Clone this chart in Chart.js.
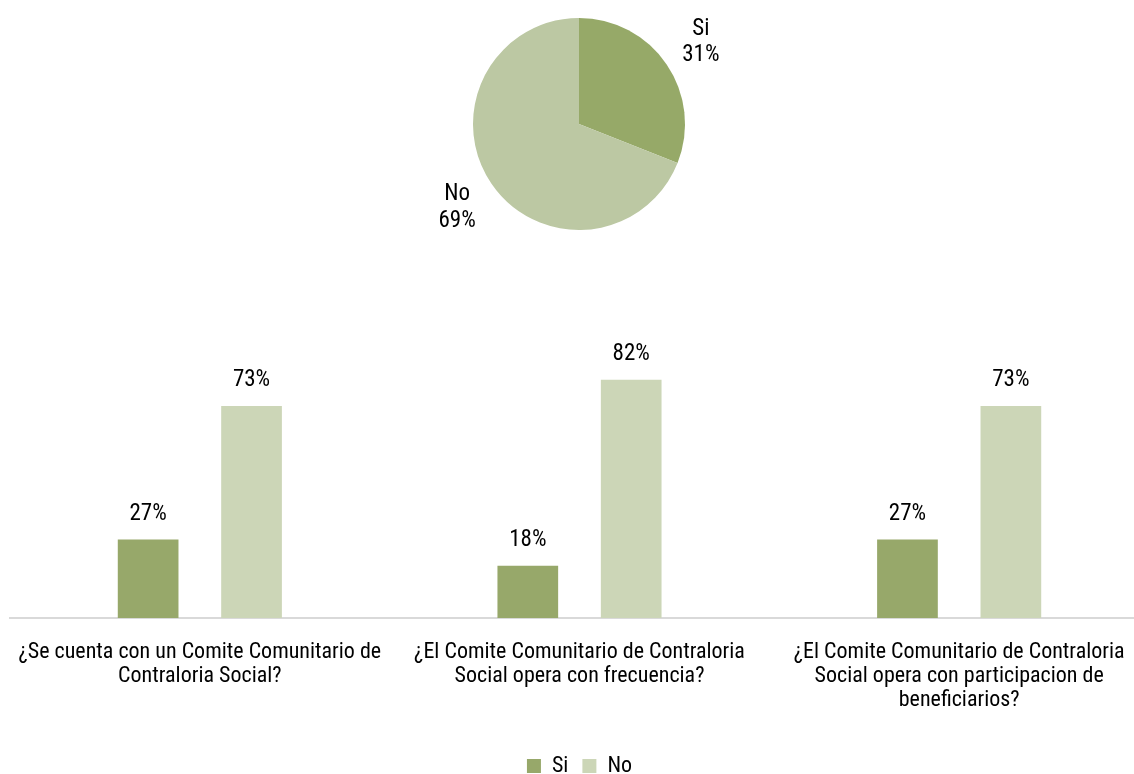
<!DOCTYPE html>
<html>
<head>
<meta charset="utf-8">
<script src="https://cdn.jsdelivr.net/npm/chart.js@4/dist/chart.umd.min.js"></script>
<style>
  html, body { margin: 0; padding: 0; background: #fff; width: 1134px; height: 774px; overflow: hidden; position: relative; }
  #pieWrap { position: absolute; left: 379px; top: 0px; width: 400px; height: 250px; }
  #barWrap { position: absolute; left: 0px; top: 280px; width: 1160px; height: 507px; }
</style>
</head>
<body>
<div id="pieWrap"><canvas id="pie"></canvas></div>
<div id="barWrap"><canvas id="bar"></canvas></div>
<script>
// ---- Data ----
const pieLabels = ["Si", "No"];
const pieValues = [31, 69];

const categories = [
  ["¿Se cuenta con un Comite Comunitario de", "Contraloria Social?"],
  ["¿El Comite Comunitario de Contraloria", "Social opera con frecuencia?"],
  ["¿El Comite Comunitario de Contraloria", "Social opera con participacion de", "beneficiarios?"]
];
const seriesNames = ["Si", "No"];
const siValues = [27, 18, 27];
const noValues = [73, 82, 73];

// ---- Styles ----
const FONT = '"Liberation Sans Narrow", "Roboto Condensed", "DejaVu Sans Condensed", "Liberation Sans", sans-serif';
const pieColors = ["#96A968", "#BCC8A3"];
const barColors = ["#97A86A", "#CCD6B7"];

Chart.defaults.font.family = FONT;
Chart.defaults.color = "#000";

const pieLabelPlugin = {
  id: "pieLabelPlugin",
  afterDatasetsDraw(chart) {
    const ctx = chart.ctx;
    const meta = chart.getDatasetMeta(0);
    ctx.save();
    ctx.font = "23px " + FONT;
    ctx.fillStyle = "#000";
    ctx.textAlign = "center";
    ctx.textBaseline = "alphabetic";
    meta.data.forEach((arc, i) => {
      const mid = (arc.startAngle + arc.endAngle) / 2;
      const r = arc.outerRadius * 1.39;
      const cx = arc.x + Math.cos(mid) * r;
      const cy = arc.y + Math.sin(mid) * r;
      ctx.fillText(chart.data.labels[i], cx, cy - 6.5);
      ctx.fillText(chart.data.datasets[0].data[i] + "%", cx, cy + 20);
    });
    ctx.restore();
  }
};

new Chart(document.getElementById("pie"), {
  type: "pie",
  data: {
    labels: pieLabels,
    datasets: [{ data: pieValues, backgroundColor: pieColors, borderWidth: 0 }]
  },
  options: {
    responsive: true,
    maintainAspectRatio: false,
    animation: false,
    layout: { padding: { top: 18, bottom: 20 } },
    plugins: { legend: { display: false }, tooltip: { enabled: false } }
  },
  plugins: [pieLabelPlugin]
});

const barLabelPlugin = {
  id: "barLabelPlugin",
  afterDatasetsDraw(chart) {
    const ctx = chart.ctx;
    ctx.save();
    ctx.font = "23px " + FONT;
    ctx.fillStyle = "#000";
    ctx.textAlign = "center";
    ctx.textBaseline = "alphabetic";
    chart.data.datasets.forEach((ds, i) => {
      chart.getDatasetMeta(i).data.forEach((bar, j) => {
        ctx.fillText(ds.data[j] + "%", bar.x, bar.y - 20);
      });
    });
    ctx.restore();
  }
};

new Chart(document.getElementById("bar"), {
  type: "bar",
  data: {
    labels: categories,
    datasets: [
      { label: seriesNames[0], data: siValues, backgroundColor: barColors[0], borderWidth: 0 },
      { label: seriesNames[1], data: noValues, backgroundColor: barColors[1], borderWidth: 0 }
    ]
  },
  options: {
    responsive: true,
    maintainAspectRatio: false,
    animation: false,
    layout: { padding: { top: 47.5, left: 10, right: 11, bottom: 0 } },
    datasets: { bar: { categoryPercentage: 0.5447, barPercentage: 0.587 } },
    scales: {
      x: {
        grid: { display: false, drawTicks: true, tickLength: 19 },
        border: { display: true, color: "#d9d9d9", width: 2 },
        ticks: { font: { size: 22, lineHeight: 1.09 }, color: "#000", padding: 3, maxRotation: 0, autoSkip: false },
        afterFit(scale) { scale.height += 26; }
      },
      y: { display: false, min: 0, max: 100 }
    },
    plugins: {
      tooltip: { enabled: false },
      legend: {
        position: "bottom",
        labels: { boxWidth: 14, boxHeight: 14, font: { size: 22 }, color: "#000", padding: 14 }
      }
    }
  },
  plugins: [barLabelPlugin]
});
</script>
</body>
</html>
